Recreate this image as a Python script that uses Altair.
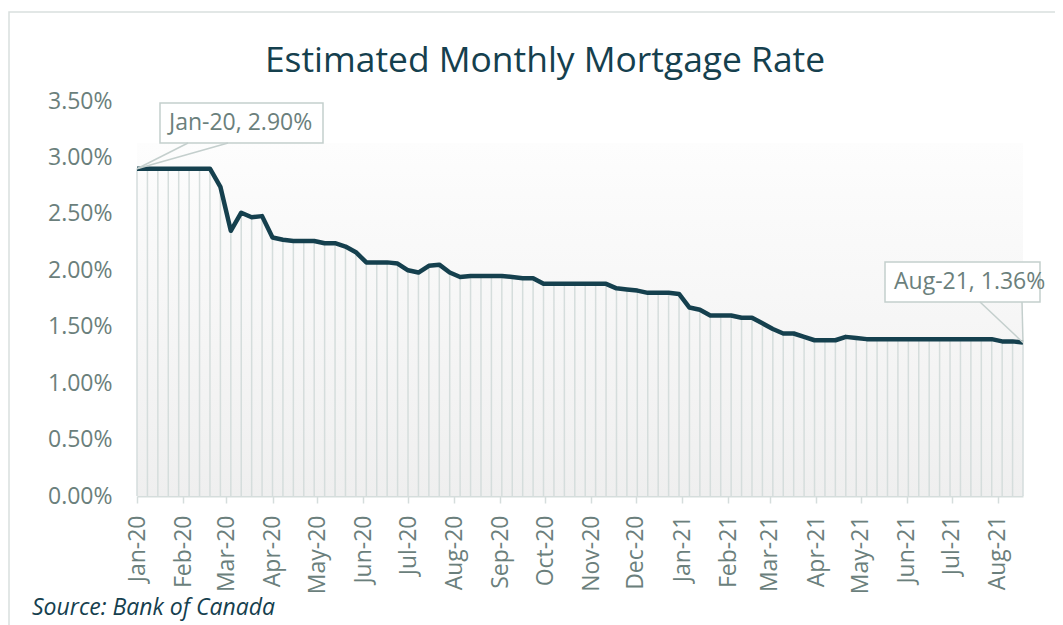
import altair as alt
import pandas as pd

# ---- data -------------------------------------------------------------
title_text = "Estimated Monthly Mortgage Rate"
source_text = "Source: Bank of Canada"
start_date = "2020-01-01"          # weekly observations
rates = [
    2.90, 2.90, 2.90, 2.90, 2.90, 2.90, 2.90, 2.90,
    2.74, 2.35, 2.51, 2.47, 2.48, 2.29, 2.27, 2.26,
    2.26, 2.26, 2.24, 2.24, 2.21, 2.16, 2.07, 2.07,
    2.07, 2.06, 2.00, 1.98, 2.04, 2.05, 1.98, 1.94,
    1.95, 1.95, 1.95, 1.95, 1.94, 1.93, 1.93, 1.88,
    1.88, 1.88, 1.88, 1.88, 1.88, 1.88, 1.84, 1.83,
    1.82, 1.80, 1.80, 1.80, 1.79, 1.67, 1.65, 1.60,
    1.60, 1.60, 1.58, 1.58, 1.53, 1.48, 1.44, 1.44,
    1.41, 1.38, 1.38, 1.38, 1.41, 1.40, 1.39, 1.39,
    1.39, 1.39, 1.39, 1.39, 1.39, 1.39, 1.39, 1.39,
    1.39, 1.39, 1.39, 1.37, 1.37, 1.36,
]
y_ticks = [0, 0.5, 1.0, 1.5, 2.0, 2.5, 3.0, 3.5]

dates = pd.date_range(start_date, periods=len(rates), freq="7D")
df = pd.DataFrame({"date": dates.strftime("%Y-%m-%d"), "rate": rates})
months = pd.date_range(dates[0], dates[-1], freq="MS")

first_pt = df.iloc[[0]].copy()
last_pt = df.iloc[[-1]].copy()
first_label = f"{dates[0].strftime('%b-%y')}, {rates[0]:.2f}%"
last_label = f"{dates[-1].strftime('%b-%y')}, {rates[-1]:.2f}%"

# ---- style -------------------------------------------------------------
W, H = 886, 395
PAD = {"left": 129, "top": 93, "right": 32, "bottom": 129}
FONT = "Open Sans"
DARK = "#15404e"
GREY_TXT = "#6b7f7c"
GRID = "#d5dddc"
BOX = "#c4cfcd"
FS = 23


def dt(ts):
    return alt.DateTime(year=ts.year, month=ts.month, date=ts.day, utc=True)


x_enc = alt.X(
    "date:T",
    scale=alt.Scale(type="utc", domain=[dt(dates[0]), dt(dates[-1])]),
    axis=alt.Axis(
        values=[dt(m) for m in months],
        labelExpr="utcFormat(datum.value, '%b-%y')",
        title=None,
        labelAngle=-90,
        labelFontSize=FS,
        labelColor=GREY_TXT,
        labelFont=FONT,
        labelPadding=12,
        domainColor=GRID,
        domainWidth=2,
        tickColor=GRID,
        tickWidth=1.5,
        tickSize=7,
        grid=False,
        labelOverlap=False,
    ),
)
y_enc = alt.Y(
    "rate:Q",
    scale=alt.Scale(domain=[0, 3.5], nice=False, zero=True),
    axis=alt.Axis(
        values=y_ticks,
        labelExpr="format(datum.value, '.2f') + '%'",
        title=None,
        labelFontSize=FS,
        labelColor=GREY_TXT,
        labelFont=FONT,
        labelPadding=25,
        domain=False,
        ticks=False,
        grid=False,
    ),
)

one = pd.DataFrame({"k": [0]})

border = alt.Chart(one).mark_rect(fill=None, stroke="#d9dfde", strokeWidth=1.5).encode(
    x=alt.value(-PAD["left"] + 1), x2=alt.value(W + PAD["right"] + 6),
    y=alt.value(-89), y2=alt.value(H + PAD["bottom"] + 6)
)

bg = alt.Chart(one).mark_rect(
    color=alt.Gradient(
        gradient="linear",
        stops=[alt.GradientStop(color="#fdfdfd", offset=0),
               alt.GradientStop(color="#efefef", offset=1)],
        x1=0, x2=0, y1=0, y2=1,
    )
).encode(x=alt.value(0), x2=alt.value(W), y=alt.value(42), y2=alt.value(H))

drops = alt.Chart(df).mark_rule(color=GRID, strokeWidth=1.5).encode(
    x=x_enc, y=y_enc, y2=alt.datum(0)
)

line = alt.Chart(df).mark_line(color=DARK, strokeWidth=4.5, strokeJoin="round").encode(
    x=x_enc, y=y_enc
)

# ---- callouts ----------------------------------------------------------
def callout(pt, label, bx1, bx2, by1, by2, t1, t2):
    tail_a = alt.Chart(pt).mark_rule(color=BOX, strokeWidth=1.5).encode(
        x=x_enc, y=y_enc, x2=alt.value(t1), y2=alt.value(by2)
    )
    tail_b = alt.Chart(pt).mark_rule(color=BOX, strokeWidth=1.5).encode(
        x=x_enc, y=y_enc, x2=alt.value(t2), y2=alt.value(by2)
    )
    box = alt.Chart(one).mark_rect(fill="white", stroke=BOX, strokeWidth=1.5).encode(
        x=alt.value(bx1), x2=alt.value(bx2), y=alt.value(by1), y2=alt.value(by2)
    )
    txt = alt.Chart(one).mark_text(
        align="left", baseline="middle", font=FONT, fontSize=FS, color=GREY_TXT
    ).encode(x=alt.value(bx1 + 9), y=alt.value((by1 + by2) / 2), text=alt.value(label))
    return [box, tail_a, tail_b, txt]


c1 = callout(first_pt, first_label, 23, 186, 2, 42, 51, 91)
c2 = callout(last_pt, last_label, 748, 903, 161, 201, 843, 885)

title = alt.Chart(one).mark_text(
    align="center", baseline="middle", font=FONT, fontSize=35.4, color=DARK
).encode(x=alt.value(408), y=alt.value(-40), text=alt.value(title_text))

source = alt.Chart(one).mark_text(
    align="left", baseline="middle", font=FONT, fontSize=FS, fontStyle="italic", color=DARK
).encode(x=alt.value(-105), y=alt.value(507), text=alt.value(source_text))

chart = alt.layer(
    border, bg, drops, line, *c1, *c2, title, source
).properties(
    width=W,
    height=H,
    autosize=alt.AutoSizeParams(type="none"),
    padding=PAD,
    background="white",
).configure_view(stroke=None)

chart.save("out.html", embed_options={"renderer": "svg", "actions": False})
